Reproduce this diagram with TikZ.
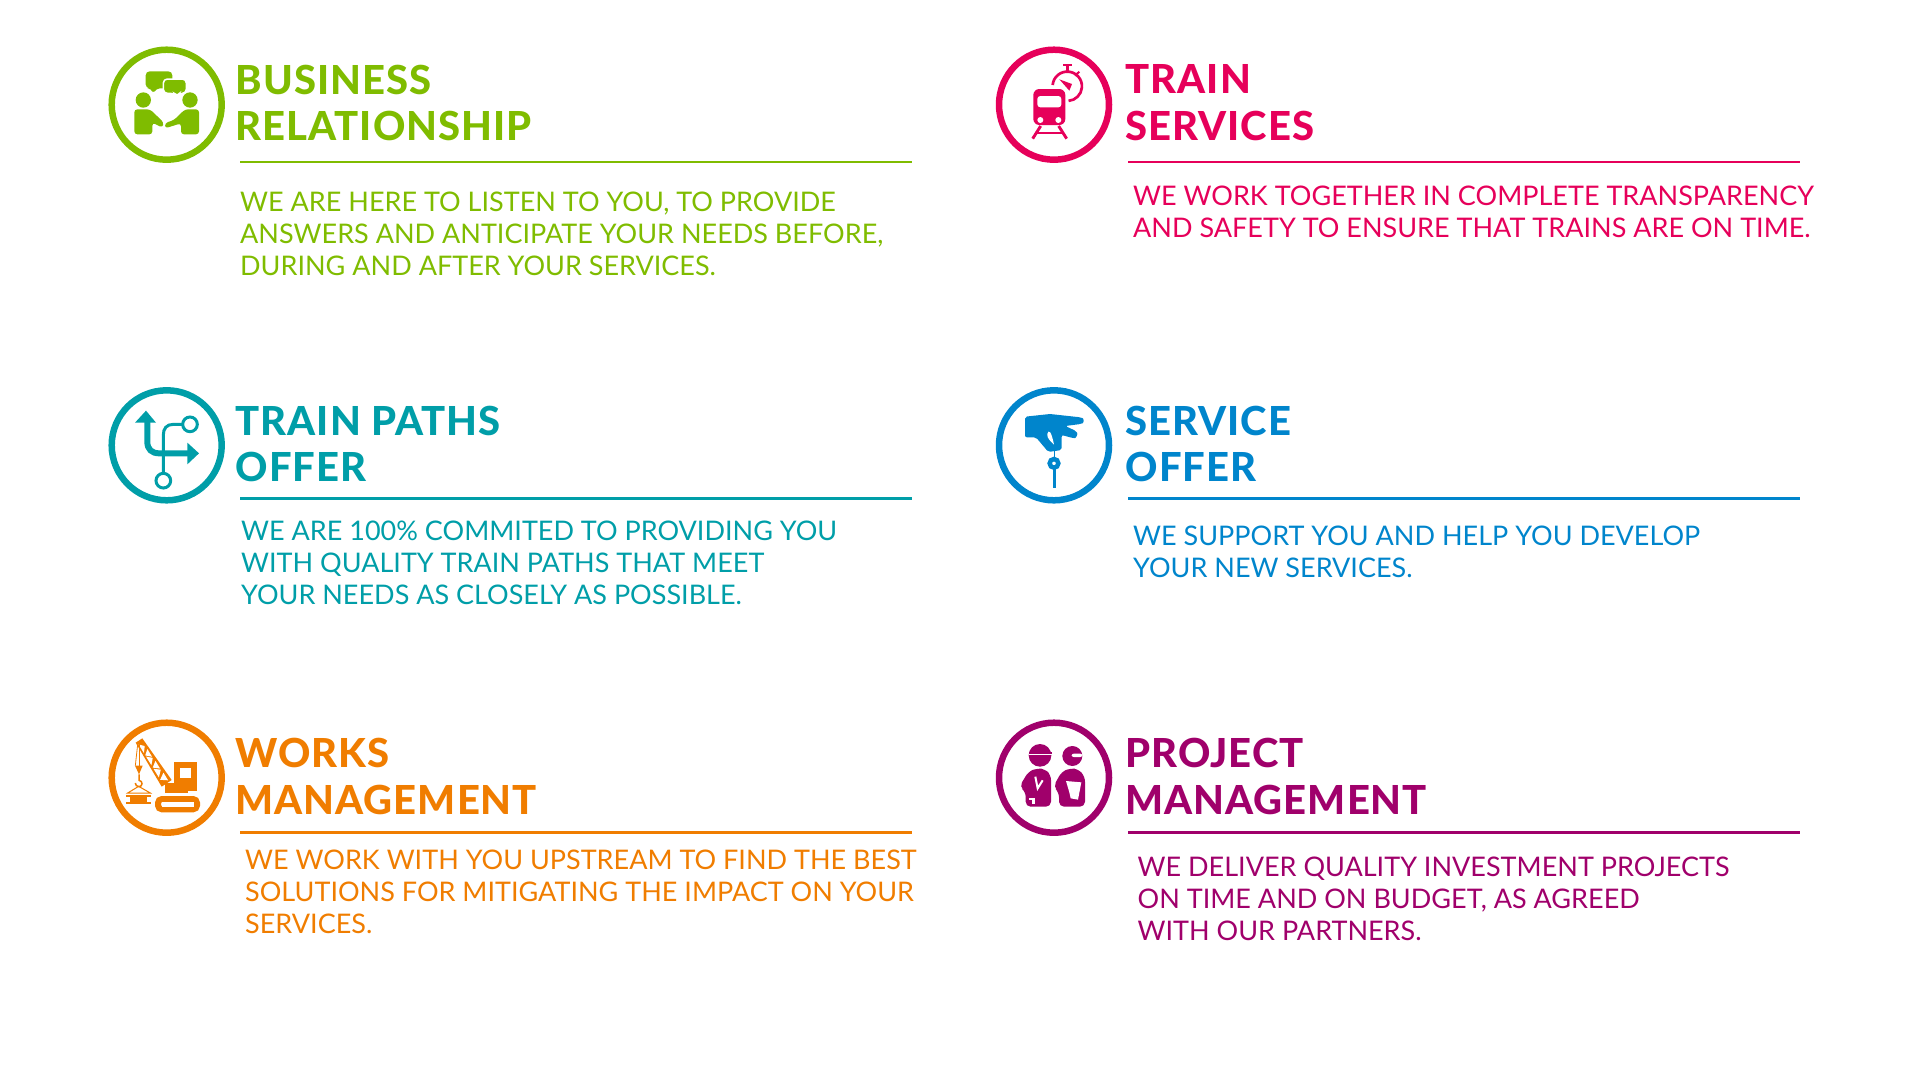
\documentclass[tikz,border=0pt]{standalone}
\usepackage{fontspec}
\setmainfont{Lato}
\newfontfamily\headfont[LetterSpace=2.5]{Lato Heavy}
\definecolor{bizgreen}{HTML}{7FBC00}
\definecolor{trainpink}{HTML}{E6005A}
\definecolor{pathteal}{HTML}{009EA8}
\definecolor{offerblue}{HTML}{0085CC}
\definecolor{worksorange}{HTML}{F07D00}
\definecolor{projpurple}{HTML}{A0006B}
\tikzset{
  ring/.style={circle,draw,line width=6.5pt,minimum size=110pt,inner sep=0pt},
  headtxt/.style={anchor=north west,align=left,inner sep=0pt,font=\fontsize{40}{46.5}\selectfont\headfont},
  bodytxt/.style={anchor=north west,align=left,inner sep=0pt,font=\fontsize{27}{32}\selectfont},
  rulerline/.style={line width=2.5pt}
}
\begin{document}
\begin{tikzpicture}[x=1pt,y=-1pt]
\useasboundingbox (0,0) rectangle (1920,1080);

%business relationship
\node[ring,draw=bizgreen] (ring1) at (166.7,104.7) {};
\node[headtxt,text=bizgreen] (head1) at (235.5,64.5) {BUSINESS\\RELATIONSHIP};
\coordinate (ruleA1) at (240,162.2);
\coordinate (ruleB1) at (912,162.2);
\draw[rulerline,bizgreen] (ruleA1) -- (ruleB1);
\node[bodytxt,text=bizgreen] (body1) at (240,191.8) {WE ARE HERE TO LISTEN TO YOU, TO PROVIDE\\ANSWERS AND ANTICIPATE YOUR NEEDS BEFORE,\\DURING AND AFTER YOUR SERVICES.};
\begin{scope}[shift={(90,30)},scale=1/3,fill=bizgreen]
\fill[rounded corners=4pt] (167,124) -- (247,124) -- (247,175) -- (198,175) -- (190,192) -- (184,175) -- (167,175) -- cycle;
\fill[rounded corners=4pt,draw=white,line width=1.5pt] (220,147) -- (289,147) -- (289,190) -- (268,190) -- (262,201) -- (254,190) -- (220,190) -- cycle;
\fill (160,210) circle (23);
\fill (300,210) circle (23);
\fill[rounded corners=3pt] (133,313) -- (133,238) -- (180,238) -- (221,277) -- (218,293) -- (187,278) -- (187,313) -- cycle;
\fill[rounded corners=3pt] (327,313) -- (327,238) -- (285,238) -- (252,270) -- (225,279) -- (225,295) -- (273,280) -- (273,313) -- cycle;
\end{scope}

%train services
\node[ring,draw=trainpink] (ring2) at (1054,104.7) {};
\node[headtxt,text=trainpink] (head2) at (1125.5,64.5) {TRAIN\\SERVICES};
\coordinate (ruleA2) at (1128,162.2);
\coordinate (ruleB2) at (1800,162.2);
\draw[rulerline,trainpink] (ruleA2) -- (ruleB2);
\node[bodytxt,text=trainpink] (body2) at (1133,185.8) {WE WORK TOGETHER IN COMPLETE TRANSPARENCY\\AND SAFETY TO ENSURE THAT TRAINS ARE ON TIME.};
\begin{scope}[shift={(980,30)},scale=1/3]
\draw[trainpink,line width=2.7pt] (218,165) arc[start angle=185,end angle=445,radius=44];
\fill[trainpink] (248,102) rectangle (276,108);
\fill[trainpink] (258,108) rectangle (266,125);
\draw[trainpink,line width=2pt] (285,137) -- (298,125);
\fill[trainpink] (238,148) -- (276,162) -- (268,182) -- cycle;
\fill[trainpink,rounded corners=6pt] (160,285) -- (160,177) -- (256,177) -- (256,285) -- cycle;
\fill[white,rounded corners=3pt] (172,198) rectangle (244,232);
\fill[white] (181,270) circle (9);
\fill[white] (235,270) circle (9);
\draw[trainpink,line width=2.9pt] (182,288) -- (158,326);
\draw[trainpink,line width=2.9pt] (236,288) -- (260,326);
\draw[trainpink,line width=1.5pt] (172,309) -- (246,309);
\end{scope}

%train paths offer
\node[ring,draw=pathteal] (ring3) at (166.7,445.3) {};
\node[headtxt,text=pathteal] (head3) at (235.5,405.5) {TRAIN PATHS\\OFFER};
\coordinate (ruleA3) at (240,498.5);
\coordinate (ruleB3) at (912,498.5);
\draw[rulerline,pathteal] (ruleA3) -- (ruleB3);
\node[bodytxt,text=pathteal] (body3) at (241,520.3) {WE ARE 100\% COMMITED TO PROVIDING YOU\\WITH QUALITY TRAIN PATHS THAT MEET\\YOUR NEEDS AS CLOSELY AS POSSIBLE.};
\begin{scope}[shift={(90,370)},scale=1/3]
\draw[pathteal,line width=6pt] (172,150) -- (172,215) .. controls (172,238) and (185,250) .. (208,250) -- (295,250);
\fill[pathteal] (135,158) -- (168,122) -- (198,158) -- cycle;
\fill[pathteal] (292,218) -- (327,250) -- (292,283) -- cycle;
\draw[pathteal,line width=3pt] (220,310) -- (220,195) .. controls (220,175) and (230,163) .. (250,163) -- (278,163);
\draw[pathteal,line width=3pt] (300,163) circle (22);
\draw[pathteal,line width=3pt] (220,332) circle (22);
\end{scope}

%service offer
\node[ring,draw=offerblue] (ring4) at (1054,445.3) {};
\node[headtxt,text=offerblue] (head4) at (1125.5,405.5) {SERVICE\\OFFER};
\coordinate (ruleA4) at (1128,498.5);
\coordinate (ruleB4) at (1800,498.5);
\draw[rulerline,offerblue] (ruleA4) -- (ruleB4);
\node[bodytxt,text=offerblue] (body4) at (1133,525.3) {WE SUPPORT YOU AND HELP YOU DEVELOP\\YOUR NEW SERVICES.};
\begin{scope}[shift={(980,370)},scale=1/3]
\fill[offerblue,rounded corners=2pt] (135,140) -- (210,132) -- (302,142) .. controls (312,146) and (312,158) .. (302,162) -- (256,168) -- (288,183) .. controls (294,192) and (288,205) .. (278,204) -- (245,195) -- (245,240) -- (205,246) -- (168,202) -- (135,202) -- cycle;
\fill[white] (202,192) .. controls (206,176) and (214,184) .. (222,224) .. controls (212,214) and (200,204) .. (202,192) -- cycle;
\draw[offerblue,line width=1pt] (222,240) -- (222,262);
\draw[offerblue,line width=4.5pt] (222,280) circle (13);
\draw[offerblue,line width=3pt] (222,298) -- (222,354);
\draw[offerblue,line width=1.5pt] (222,322) -- (229,322);
\draw[offerblue,line width=1.5pt] (222,334) -- (229,334);
\end{scope}

%works management
\node[ring,draw=worksorange] (ring5) at (166.7,777.7) {};
\node[headtxt,text=worksorange] (head5) at (235.5,738) {WORKS\\MANAGEMENT};
\coordinate (ruleA5) at (240,832.7);
\coordinate (ruleB5) at (912,832.7);
\draw[rulerline,worksorange] (ruleA5) -- (ruleB5);
\node[bodytxt,text=worksorange] (body5) at (245,849.8) {WE WORK WITH YOU UPSTREAM TO FIND THE BEST\\SOLUTIONS FOR MITIGATING THE IMPACT ON YOUR\\SERVICES.};
\begin{scope}[shift={(90,705)},scale=1/3]
\fill[worksorange] (137,113) -- (157,100) -- (245,225) -- (215,245) -- cycle;
\foreach \t in {.06,.34,.62}{
  \fill[white] (141+80*\t,110.4+130.6*\t) -- (141+80*\t+16,110.4+130.6*\t+26) -- (153+86*\t+6,102.6+126.4*\t+13) -- cycle;
  \fill[white] (153+86*\t+14,102.6+126.4*\t+22) -- (153+86*\t+28,102.6+126.4*\t+45) -- (141+80*\t+20,110.4+130.6*\t+33) -- cycle;
}
\fill[worksorange] (253,170) rectangle (320,258);
\fill[worksorange] (225,235) rectangle (320,258);
\fill[worksorange] (225,258) rectangle (295,265);
\fill[white] (270,188) rectangle (302,218);
\draw[worksorange,line width=6pt,rounded corners=4pt] (204,282) rectangle (321,313);
\fill[white] (215,290) rectangle (312,305);
\draw[worksorange,line width=.8pt] (143,118) -- (136,182);
\draw[worksorange,line width=.8pt] (147,118) -- (147,182);
\fill[worksorange] (135,182) -- (158,182) -- (147,208) -- cycle;
\draw[worksorange,line width=1.5pt] (147,208) -- (147,226) .. controls (160,228) and (158,245) .. (147,245) .. controls (140,245) and (136,240) .. (136,234);
\draw[worksorange,line width=1pt] (113,264) -- (146,244) -- (181,264) -- cycle;
\fill[worksorange] (108,270) rectangle (182,277);
\fill[worksorange] (120,277) rectangle (170,291);
\fill[worksorange] (108,291) rectangle (182,298);
\end{scope}

%project management
\node[ring,draw=projpurple] (ring6) at (1054,777.7) {};
\node[headtxt,text=projpurple] (head6) at (1125.5,738) {PROJECT\\MANAGEMENT};
\coordinate (ruleA6) at (1128,832.7);
\coordinate (ruleB6) at (1800,832.7);
\draw[rulerline,projpurple] (ruleA6) -- (ruleB6);
\node[bodytxt,text=projpurple] (body6) at (1137.5,856.3) {WE DELIVER QUALITY INVESTMENT PROJECTS\\ON TIME AND ON BUDGET, AS AGREED\\WITH OUR PARTNERS.};
\begin{scope}[shift={(980,705)},scale=1/3]
\fill[projpurple] (180,151) circle (34);
\fill[white] (146,146) rectangle (218,150);
\fill[projpurple] (146,141) rectangle (217,146);
\fill[projpurple,rounded corners=5pt] (137,305) -- (137,260) -- (118,245) -- (145,200) -- (170,190) -- (195,192) -- (213,210) -- (213,305) -- cycle;
\draw[white,line width=2pt] (166,215) -- (173,250) -- (188,226);
\fill[white] (148,278) rectangle (165,286);
\fill[white] (155,286) rectangle (165,298);
\fill[projpurple] (277,153) circle (30);
\fill[white,rounded corners=2pt] (275,146) rectangle (307,156);
\fill[projpurple,rounded corners=5pt] (237,305) -- (237,262) -- (220,245) -- (245,200) -- (270,190) -- (295,192) -- (315,215) -- (315,305) -- cycle;
\fill[white] (258,228) -- (304,232) -- (294,284) -- (272,280) -- (268,262) -- cycle;
\end{scope}
\end{tikzpicture}
\end{document}
